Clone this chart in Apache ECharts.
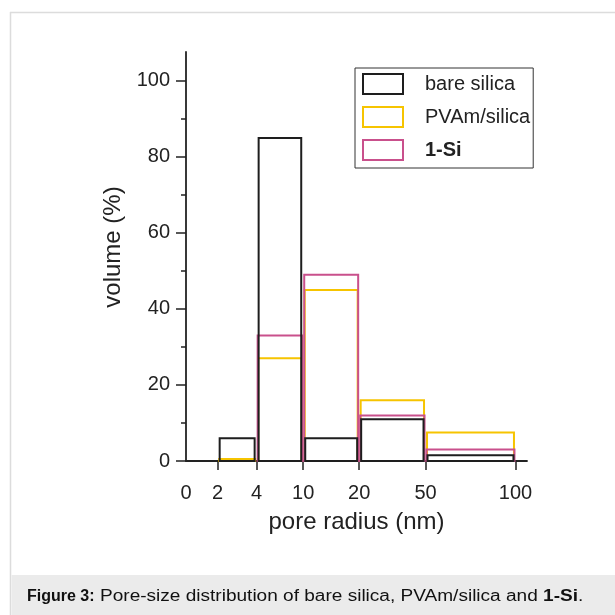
<!DOCTYPE html>
<html>
<head>
<meta charset="utf-8">
<script src="https://cdn.jsdelivr.net/npm/echarts@6/dist/echarts.min.js"></script>
<style>
  html, body { margin: 0; padding: 0; background: #ffffff; }
  #chart { width: 615px; height: 615px; }
</style>
</head>
<body>
<div id="chart"></div>
<script>
// Pore-radius bins (nm): lower and upper edges
const binLow = [2, 4, 10, 20, 50];
const binHigh = [4, 10, 20, 50, 100];

// Volume fraction (%) per bin
const bareSilica = [6, 85, 6, 11, 1.5];
const pvamSilica = [0.5, 27, 45, 16, 7.5];
const oneSi = [0, 33, 49, 12, 3];

// Labelled radii on the pore-radius axis and where each sits along it
// (the axis is drawn with a hand-set, non-uniform spacing)
const radiusTicks = [0, 2, 4, 10, 20, 50, 100];
const radiusTickPos = [0, 9.61, 21.44, 35.58, 52.56, 72.70, 100];

// Volume axis ticks
const volumeTicks = [0, 20, 40, 60, 80, 100];
const volumeMinorTicks = [10, 30, 50, 70, 90];

const seriesNames = ['bare silica', 'PVAm/silica', '1-Si'];

const FONT = '"Liberation Sans", Arial, Helvetica, sans-serif';
const INK = '#222222';
const colors = { 'bare silica': '#1e1e1e', 'PVAm/silica': '#f6c400', '1-Si': '#c9508c' };
const inset = { 'bare silica': 2, 'PVAm/silica': 1.5, '1-Si': 1 };

// map a radius in nm onto the axis position
function radiusToPos(r) {
  for (let i = 0; i < radiusTicks.length - 1; i++) {
    const a = radiusTicks[i], b = radiusTicks[i + 1];
    if (r >= a && r <= b) {
      const t = (r - a) / (b - a);
      return radiusTickPos[i] + t * (radiusTickPos[i + 1] - radiusTickPos[i]);
    }
  }
  return radiusTickPos[radiusTickPos.length - 1];
}
function posToLabel(p) {
  for (let i = 0; i < radiusTickPos.length; i++) {
    if (Math.abs(radiusTickPos[i] - p) < 1e-6) return String(radiusTicks[i]);
  }
  return '';
}

function makeSeries(name, values) {
  const col = colors[name];
  const ins = inset[name];
  return {
    name: name,
    type: 'custom',
    xAxisIndex: 0,
    yAxisIndex: 0,
    itemStyle: { color: 'rgba(0,0,0,0)', borderColor: col, borderWidth: 2 },
    data: binLow.map((lo, i) => [lo, binHigh[i], values[i]]),
    renderItem: function (params, api) {
      const v = api.value(2);
      if (!(v > 0)) return null;
      const p0 = api.coord([radiusToPos(api.value(0)), 0]);
      const p1 = api.coord([radiusToPos(api.value(1)), v]);
      return {
        type: 'rect',
        shape: {
          x: p0[0] + ins,
          y: p1[1],
          width: (p1[0] - p0[0]) - 2 * ins,
          height: p0[1] - p1[1]
        },
        style: { fill: 'none', stroke: col, lineWidth: 2 }
      };
    }
  };
}

const chart = echarts.init(document.getElementById('chart'), null, { renderer: 'canvas' });

chart.setOption({
  animation: false,
  backgroundColor: '#ffffff',
  textStyle: { fontFamily: FONT, color: INK },
  grid: { left: 186, top: 52, right: 88, bottom: 154, containLabel: false },
  xAxis: {
    type: 'value',
    min: 0,
    max: 103.5,
    name: 'pore radius (nm)',
    nameLocation: 'middle',
    nameGap: 49,
    nameTextStyle: { fontFamily: FONT, fontSize: 24, color: INK },
    axisLine: { lineStyle: { color: INK, width: 1.8 } },
    axisTick: {
      show: true, inside: false, length: 9,
      customValues: radiusTickPos.slice(1),
      lineStyle: { color: INK, width: 1.5 }
    },
    axisLabel: {
      customValues: radiusTickPos,
      formatter: posToLabel,
      margin: 22,
      fontFamily: FONT, fontSize: 20, color: INK
    },
    splitLine: { show: false }
  },
  yAxis: [
    {
      type: 'value',
      position: 'left',
      min: 0,
      max: 107.6,
      axisLine: { show: true, lineStyle: { color: INK, width: 1.8 } },
      axisTick: {
        show: true, inside: false, length: 10,
        customValues: volumeTicks,
        lineStyle: { color: INK, width: 1.5 }
      },
      axisLabel: {
        customValues: volumeTicks,
        margin: 16,
        fontFamily: FONT, fontSize: 20, color: INK
      },
      splitLine: { show: false }
    },
    {
      type: 'value',
      position: 'left',
      min: 0,
      max: 107.6,
      axisLine: { show: false },
      axisTick: {
        show: true, inside: false, length: 5,
        customValues: volumeMinorTicks,
        lineStyle: { color: INK, width: 1.5 }
      },
      axisLabel: { show: false },
      splitLine: { show: false }
    }
  ],
  legend: {
    orient: 'vertical',
    left: 355,
    top: 68,
    padding: [5, 3, 7, 7],
    borderColor: '#333333',
    borderWidth: 1,
    itemWidth: 40,
    itemHeight: 20,
    itemGap: 11,
    icon: 'rect',
    selectedMode: false,
    data: seriesNames.map(n => ({
      name: n,
      icon: 'rect',
      itemStyle: { color: 'rgba(0,0,0,0)', borderColor: colors[n], borderWidth: 2 }
    })),
    formatter: n => (n === '1-Si' ? '{b|1-Si}' : n),
    textStyle: {
      fontFamily: FONT, fontSize: 20, lineHeight: 20, color: INK,
      padding: [0, 0, 0, 17],
      rich: { b: { fontFamily: FONT, fontSize: 20, lineHeight: 20, fontWeight: 'bold', color: INK } }
    }
  },
  series: [
    makeSeries('PVAm/silica', pvamSilica),
    makeSeries('1-Si', oneSi),
    makeSeries('bare silica', bareSilica)
  ],
  graphic: [
    // page frame
    { type: 'line', shape: { x1: 10.5, y1: 12, x2: 10.5, y2: 615 }, style: { stroke: '#dcdcdc', lineWidth: 1.5 }, silent: true },
    { type: 'line', shape: { x1: 10, y1: 12.5, x2: 615, y2: 12.5 }, style: { stroke: '#dcdcdc', lineWidth: 1.5 }, silent: true },
    // volume axis title
    {
      type: 'text', x: 113, y: 247, rotation: Math.PI / 2, silent: true,
      style: {
        text: 'volume (%)', fontFamily: FONT, fontSize: 24, fill: INK,
        align: 'center', verticalAlign: 'middle'
      }
    },
    // caption band
    { type: 'rect', shape: { x: 11.5, y: 575, width: 604, height: 40 }, style: { fill: '#ebebeb' }, silent: true },
    {
      type: 'text', x: 27, y: 597, silent: true,
      style: {
        text: 'Figure 3:', fontFamily: FONT, fontSize: 16, fontWeight: 'bold', fill: '#111111',
        align: 'left', verticalAlign: 'middle'
      }
    },
    {
      type: 'text', x: 100, y: 597, scaleX: 1.19, silent: true,
      style: {
        text: 'Pore-size distribution of bare silica, PVAm/silica and {b|1-Si}.',
        fontFamily: FONT, fontSize: 16, fill: '#111111',
        align: 'left', verticalAlign: 'middle',
        rich: { b: { fontFamily: FONT, fontSize: 16, fontWeight: 'bold', fill: '#111111' } }
      }
    }
  ]
});
</script>
</body>
</html>
